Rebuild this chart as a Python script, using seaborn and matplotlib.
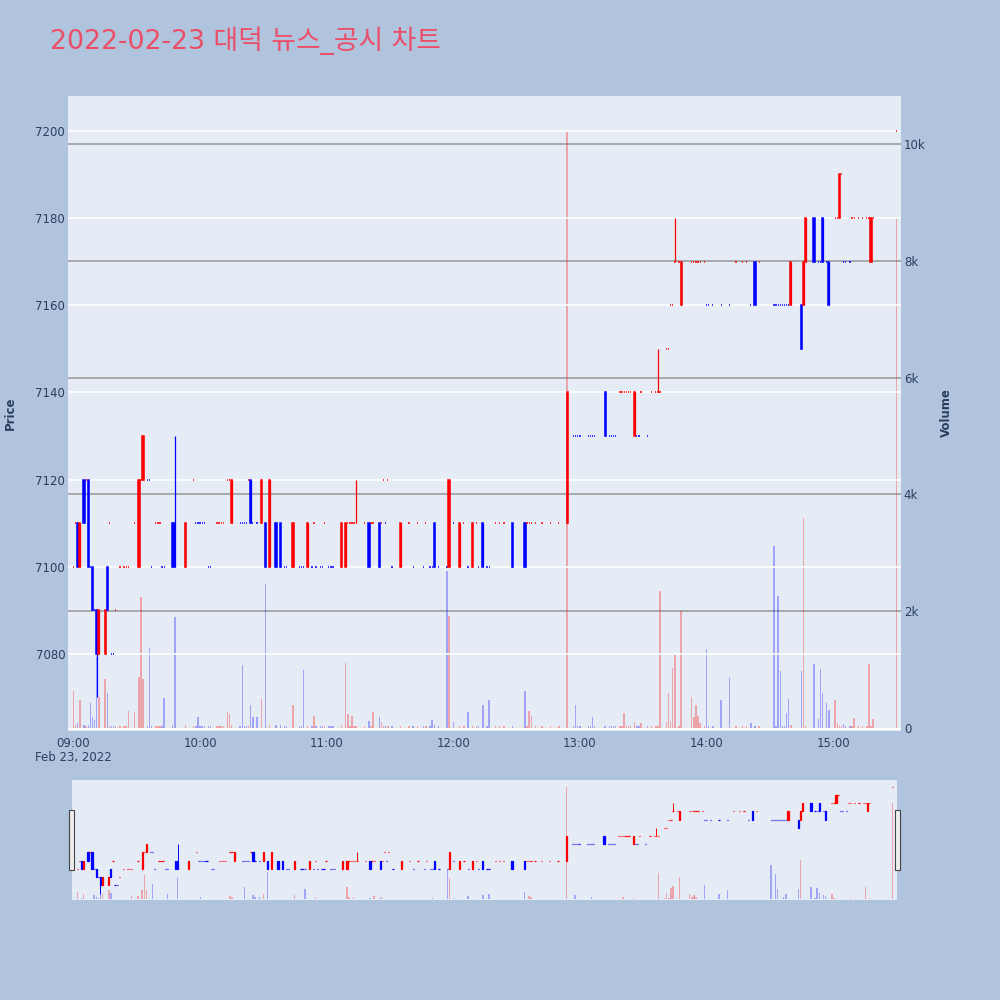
import numpy as np
import pandas as pd
import matplotlib
matplotlib.use('Agg')
import matplotlib.pyplot as plt
import seaborn as sns
from matplotlib.patches import Rectangle

sns.set_theme(style='darkgrid')
plt.rcParams['font.family'] = ['DejaVu Sans', 'Noto Sans CJK KR']

TITLE = '2022-02-23 대덕 뉴스_공시 차트'
time_ticks = [0, 60, 120, 180, 240, 300, 360]
time_labels = ['09:00', '10:00', '11:00', '12:00', '13:00', '14:00', '15:00']
date_label = 'Feb 23, 2022'
price_ticks = [7080, 7100, 7120, 7140, 7160, 7180, 7200]
volume_ticks = [0, 2000, 4000, 6000, 8000, 10000]
volume_labels = ['0', '2k', '4k', '6k', '8k', '10k']

# minutes after 09:00
minute = [0, 1, 2, 3, 5, 6, 7, 8, 9, 10,
          11, 12, 15, 16, 17, 18, 19, 20, 22, 24,
          25, 26, 29, 31, 32, 33, 35, 36, 37, 39,
          40, 41, 42, 43, 47, 48, 53, 57, 58, 59,
          60, 61, 62, 64, 65, 68, 69, 70, 71, 73,
          74, 75, 79, 80, 81, 82, 83, 84, 85, 87,
          89, 91, 93, 96, 98, 100, 101, 104, 107, 108,
          109, 111, 113, 114, 115, 117, 118, 119, 121, 122,
          123, 127, 129, 130, 131, 132, 133, 134, 138, 140,
          141, 142, 145, 146, 147, 148, 149, 151, 155, 159,
          161, 163, 166, 167, 169, 170, 171, 173, 177, 178,
          180, 183, 185, 187, 189, 191, 192, 194, 196, 197,
          200, 202, 204, 208, 214, 215, 216, 217, 219, 222,
          226, 230, 234, 237, 238, 239, 240, 244, 245, 246,
          247, 252, 254, 255, 256, 257, 259, 260, 261, 262,
          263, 264, 266, 267, 268, 269, 272, 274, 276, 277,
          278, 281, 282, 283, 284, 285, 287, 288, 293, 294,
          295, 296, 297, 299, 300, 301, 303, 307, 311, 314,
          317, 319, 321, 323, 325, 332, 333, 334, 335, 336,
          337, 338, 339, 340, 345, 346, 347, 351, 353, 354,
          355, 357, 358, 361, 362, 363, 364, 365, 366, 368,
          369, 370, 372, 374, 376, 377, 378, 379, 390]

open_ = [7100, 7110, 7110, 7100, 7120, 7120, 7120, 7100, 7100, 7090,
         7090, 7080, 7080, 7100, 7110, 7080, 7080, 7090, 7100, 7100,
         7100, 7100, 7110, 7100, 7120, 7120, 7120, 7120, 7100, 7110,
         7110, 7110, 7100, 7100, 7110, 7110, 7100, 7120, 7110, 7110,
         7110, 7110, 7110, 7100, 7100, 7110, 7110, 7110, 7110, 7120,
         7120, 7110, 7110, 7110, 7110, 7110, 7120, 7120, 7110, 7110,
         7110, 7110, 7100, 7110, 7110, 7100, 7100, 7100, 7100, 7100,
         7100, 7100, 7100, 7110, 7100, 7100, 7100, 7110, 7100, 7100,
         7100, 7100, 7100, 7110, 7110, 7110, 7110, 7110, 7110, 7110,
         7110, 7110, 7110, 7110, 7120, 7110, 7120, 7100, 7100, 7110,
         7100, 7110, 7100, 7110, 7100, 7100, 7110, 7100, 7100, 7100,
         7110, 7100, 7110, 7100, 7100, 7110, 7100, 7110, 7100, 7100,
         7110, 7110, 7110, 7110, 7110, 7110, 7110, 7110, 7110, 7110,
         7110, 7110, 7110, 7130, 7130, 7130, 7130, 7130, 7130, 7130,
         7130, 7140, 7130, 7130, 7130, 7130, 7140, 7140, 7140, 7140,
         7140, 7140, 7130, 7130, 7130, 7140, 7130, 7140, 7140, 7140,
         7140, 7150, 7150, 7160, 7160, 7170, 7170, 7160, 7170, 7170,
         7170, 7170, 7170, 7170, 7160, 7160, 7160, 7160, 7160, 7170,
         7170, 7170, 7160, 7170, 7170, 7160, 7160, 7160, 7160, 7160,
         7160, 7160, 7160, 7160, 7160, 7160, 7170, 7180, 7170, 7170,
         7180, 7170, 7170, 7180, 7180, 7180, 7190, 7170, 7170, 7170,
         7180, 7180, 7180, 7180, 7180, 7180, 7170, 7180, 7200]

close = [7100, 7110, 7100, 7110, 7110, 7120, 7100, 7100, 7090, 7090,
         7080, 7090, 7090, 7090, 7110, 7080, 7080, 7090, 7100, 7100,
         7100, 7100, 7110, 7120, 7120, 7130, 7120, 7120, 7100, 7110,
         7110, 7110, 7100, 7100, 7100, 7100, 7110, 7120, 7110, 7110,
         7110, 7110, 7110, 7100, 7100, 7110, 7110, 7110, 7110, 7120,
         7120, 7120, 7110, 7110, 7110, 7110, 7120, 7110, 7110, 7110,
         7120, 7100, 7120, 7100, 7100, 7100, 7100, 7110, 7100, 7100,
         7100, 7110, 7100, 7110, 7100, 7100, 7100, 7110, 7100, 7100,
         7100, 7110, 7110, 7110, 7110, 7110, 7110, 7110, 7110, 7100,
         7110, 7110, 7100, 7110, 7120, 7110, 7120, 7100, 7110, 7110,
         7100, 7110, 7100, 7110, 7100, 7100, 7100, 7100, 7100, 7120,
         7110, 7110, 7110, 7100, 7110, 7110, 7100, 7100, 7100, 7100,
         7110, 7110, 7110, 7100, 7100, 7110, 7110, 7110, 7110, 7110,
         7110, 7110, 7140, 7130, 7130, 7130, 7130, 7130, 7130, 7130,
         7130, 7130, 7130, 7130, 7130, 7130, 7140, 7140, 7140, 7140,
         7140, 7140, 7140, 7130, 7130, 7140, 7130, 7140, 7140, 7140,
         7140, 7150, 7150, 7160, 7160, 7170, 7170, 7170, 7170, 7170,
         7170, 7170, 7170, 7170, 7160, 7160, 7160, 7160, 7160, 7170,
         7170, 7170, 7160, 7160, 7170, 7160, 7160, 7160, 7160, 7160,
         7160, 7160, 7160, 7170, 7150, 7170, 7180, 7170, 7170, 7170,
         7170, 7170, 7160, 7180, 7180, 7190, 7190, 7170, 7170, 7170,
         7180, 7180, 7180, 7180, 7180, 7180, 7180, 7180, 7200]

volume = [634, 51, 91, 480, 60, 40, 50, 422, 194, 137,
          1221, 536, 833, 605, 30, 40, 40, 40, 40, 40,
          40, 291, 280, 879, 2237, 833, 40, 1376, 40, 40,
          40, 40, 40, 508, 60, 1906, 50, 40, 40, 183,
          30, 30, 30, 40, 40, 30, 30, 30, 30, 280,
          234, 60, 40, 1085, 40, 30, 30, 388, 183, 183,
          497, 2466, 60, 60, 60, 40, 40, 400, 40, 40,
          987, 40, 30, 205, 40, 40, 40, 30, 30, 30,
          30, 60, 1107, 234, 40, 205, 40, 40, 40, 125,
          40, 280, 183, 103, 30, 30, 30, 30, 40, 30,
          30, 30, 30, 30, 30, 137, 50, 30, 2688, 1918,
          103, 40, 30, 280, 40, 30, 30, 394, 30, 479,
          30, 30, 30, 40, 634, 30, 291, 205, 30, 30,
          30, 30, 10220, 30, 394, 30, 30, 30, 30, 194,
          30, 40, 30, 30, 30, 30, 30, 30, 251, 30,
          30, 30, 103, 30, 30, 80, 30, 30, 30, 30,
          2352, 97, 605, 125, 1027, 1256, 30, 2009, 536, 183,
          394, 205, 80, 30, 1353, 30, 30, 479, 851, 30,
          30, 30, 80, 40, 30, 3111, 30, 2266, 976, 30,
          30, 263, 502, 46, 976, 3596, 40, 1102, 148, 1005,
          605, 422, 308, 479, 91, 40, 30, 68, 30, 30,
          30, 166, 30, 30, 30, 1090, 40, 148, 8730]

# wicks beyond the body
high_wick = {48: 7130, 134: 7120, 277: 7150, 285: 7180}
low_wick = {11: 7070}

INC = '#FF0000'
DEC = '#0000FF'

df = pd.DataFrame({'minute': minute, 'open': open_, 'close': close, 'volume': volume})
df['top'] = df[['open', 'close']].max(axis=1)
df['bottom'] = df[['open', 'close']].min(axis=1)
df['high'] = df['minute'].map(high_wick).fillna(df['top'])
df['low'] = df['minute'].map(low_wick).fillna(df['bottom'])

# plotly rule: flat candle takes direction from previous close
inc = []
state, prev = True, None
for o, c in zip(df['open'], df['close']):
    if c != o:
        state = c > o
    elif prev is not None and c != prev:
        state = c > prev
    prev = c
    inc.append(state)
df['color'] = np.where(inc, INC, DEC)

XLIM = (-2.6, 392.2)
PLIM = (7062.3, 7208)
VLIM = (-51, 10822)
TXT = '#2a3f5f'


def draw_candles(ax, body_w, lw, wick_lw):
    ax.vlines(df['minute'], df['low'], df['high'], colors=df['color'], lw=wick_lw, zorder=3)
    ax.bar(df['minute'], df['top'] - df['bottom'], bottom=df['bottom'],
           width=body_w, color=df['color'], edgecolor=df['color'], linewidth=lw, zorder=4)


def draw_volume(ax):
    ax.bar(df['minute'], df['volume'], width=0.7, color=df['color'], alpha=0.3, linewidth=0, zorder=2)


fig = plt.figure(figsize=(10, 10), dpi=100)
fig.patch.set_facecolor('#B0C4DE')

ax_v = fig.add_axes([0.068, 0.269, 0.833, 0.635])
ax_v.set_facecolor('#E5ECF6')
ax_p = ax_v.twinx()

draw_volume(ax_v)
ax_v.set_xlim(*XLIM)
ax_v.set_ylim(*VLIM)
ax_v.set_yticks(volume_ticks)
ax_v.set_yticklabels(volume_labels)
ax_v.yaxis.tick_right()
ax_v.grid(False)
ax_v.grid(axis='y', color='#A3A3A3', lw=1.3)
ax_v.axhline(0, color='white', lw=1.8, zorder=1)
ax_v.set_xticks(time_ticks)
ax_v.set_xticklabels(time_labels)

draw_candles(ax_p, 0.6, 1.1, 0.9)
ax_p.set_ylim(*PLIM)
ax_p.set_yticks(price_ticks)
ax_p.yaxis.tick_left()
ax_p.grid(False)
ax_p.grid(axis='y', color='white', lw=1.2)

for a in (ax_v, ax_p):
    for s in a.spines.values():
        s.set_visible(False)
    a.tick_params(length=0, labelsize=8.5, colors=TXT, pad=2)
ax_v.tick_params(axis='x', pad=4)

fig.text(0.073, 1 - 0.757, date_label, ha='center', va='center', fontsize=8.5, color=TXT)
fig.text(0.010, 0.587, 'Price', rotation=90, ha='center', va='center', fontsize=8.5, fontweight='bold', color=TXT)
fig.text(0.946, 0.587, 'Volume', rotation=90, ha='center', va='center', fontsize=8.5, fontweight='bold', color=TXT)
fig.text(0.050, 1 - 0.041, TITLE, ha='left', va='center', fontsize=19.3, color='#EC4E67')

# range slider
ax_s = fig.add_axes([0.072, 0.100, 0.825, 0.120])
ax_s.set_facecolor('#E5ECF6')
ax_s2 = ax_s.twinx()
draw_volume(ax_s)
ax_s.set_xlim(*XLIM)
ax_s.set_ylim(*VLIM)
draw_candles(ax_s2, 0.6, 0.9, 0.7)
ax_s2.set_ylim(*PLIM)
for a in (ax_s, ax_s2):
    a.grid(False)
    a.set_xticks([])
    a.set_yticks([])
    for s in a.spines.values():
        s.set_visible(False)

for x0 in (0.069, 0.895):
    fig.patches.append(Rectangle((x0, 0.130), 0.005, 0.060, transform=fig.transFigure,
                                 facecolor='#EEEEEE', edgecolor='#444444', lw=0.8, zorder=10))

fig.savefig('out.png', dpi=100, facecolor=fig.get_facecolor())
